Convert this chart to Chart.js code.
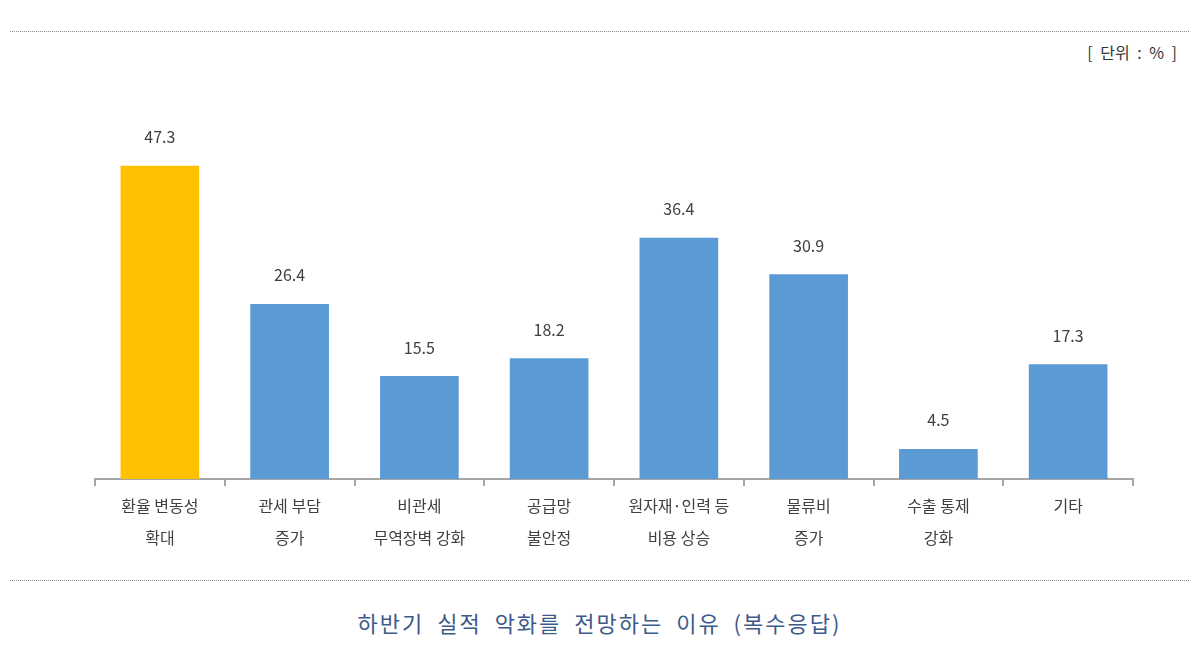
<!DOCTYPE html>
<html><head><meta charset="utf-8">
<script src="https://cdn.jsdelivr.net/npm/chart.js@4/dist/chart.umd.min.js"></script>
<style>
body{margin:0;background:#fff;width:1199px;height:664px;position:relative;overflow:hidden;font-family:"Noto Sans CJK KR",sans-serif}
.rule{position:absolute;left:10px;right:10px;border-top:1px dotted #888}
#unit{position:absolute;right:22px;top:40px;font-size:16px;color:#333;word-spacing:4px}
#title{position:absolute;left:0;width:1199px;top:606px;text-align:center;font-size:22px;color:#3d5a8a;letter-spacing:2px;word-spacing:6px}
#wrap{position:absolute;left:0;top:0;width:1199px;height:580px}
</style></head><body>
<div class="rule" style="top:31px"></div>
<div class="rule" style="top:580px"></div>
<div id="unit">[ 단위 : % ]</div>
<div id="wrap"><canvas id="c"></canvas></div>
<div id="title">하반기 실적 악화를 전망하는 이유 (복수응답)</div>
<script>
const categories = [["환율 변동성","확대"],["관세 부담","증가"],["비관세","무역장벽 강화"],["공급망","불안정"],["원자재·인력 등","비용 상승"],["물류비","증가"],["수출 통제","강화"],["기타"]];
const values = [47.3, 26.4, 15.5, 18.2, 36.4, 30.9, 4.5, 17.3];
const barColors = ["#ffc000","#5b9bd5","#5b9bd5","#5b9bd5","#5b9bd5","#5b9bd5","#5b9bd5","#5b9bd5"];

const valueLabels = {
  id: "valueLabels",
  afterDatasetsDraw(chart) {
    const ctx = chart.ctx;
    ctx.save();
    ctx.font = "16px 'Noto Sans CJK KR'";
    ctx.fillStyle = "#404040";
    ctx.textAlign = "center";
    ctx.textBaseline = "middle";
    chart.getDatasetMeta(0).data.forEach((bar, i) => {
      ctx.fillText(values[i].toFixed(1), bar.x, bar.y - 29);
    });
    ctx.restore();
  }
};

new Chart(document.getElementById("c"), {
  type: "bar",
  data: { labels: categories, datasets: [{ data: values, backgroundColor: barColors, barThickness: 78 }] },
  options: {
    responsive: true, maintainAspectRatio: false, animation: false,
    layout: { padding: { left: 95, right: 66, top: 82, bottom: 0 } },
    plugins: { legend: { display: false }, tooltip: { enabled: false } },
    scales: {
      y: { display: false, min: 0, max: 60 },
      x: {
        afterFit(s) { s.height = 101; },
        border: { color: "#a6a6a6", width: 2 },
        grid: { offset: true, drawOnChartArea: false, drawTicks: true, tickLength: 7, color: "#a6a6a6", lineWidth: 2 },
        ticks: { color: "#404040", font: { size: 16, family: "'Noto Sans CJK KR'", lineHeight: 2 }, padding: 4, maxRotation: 0, autoSkip: false }
      }
    }
  },
  plugins: [valueLabels]
});
</script>
</body></html>
